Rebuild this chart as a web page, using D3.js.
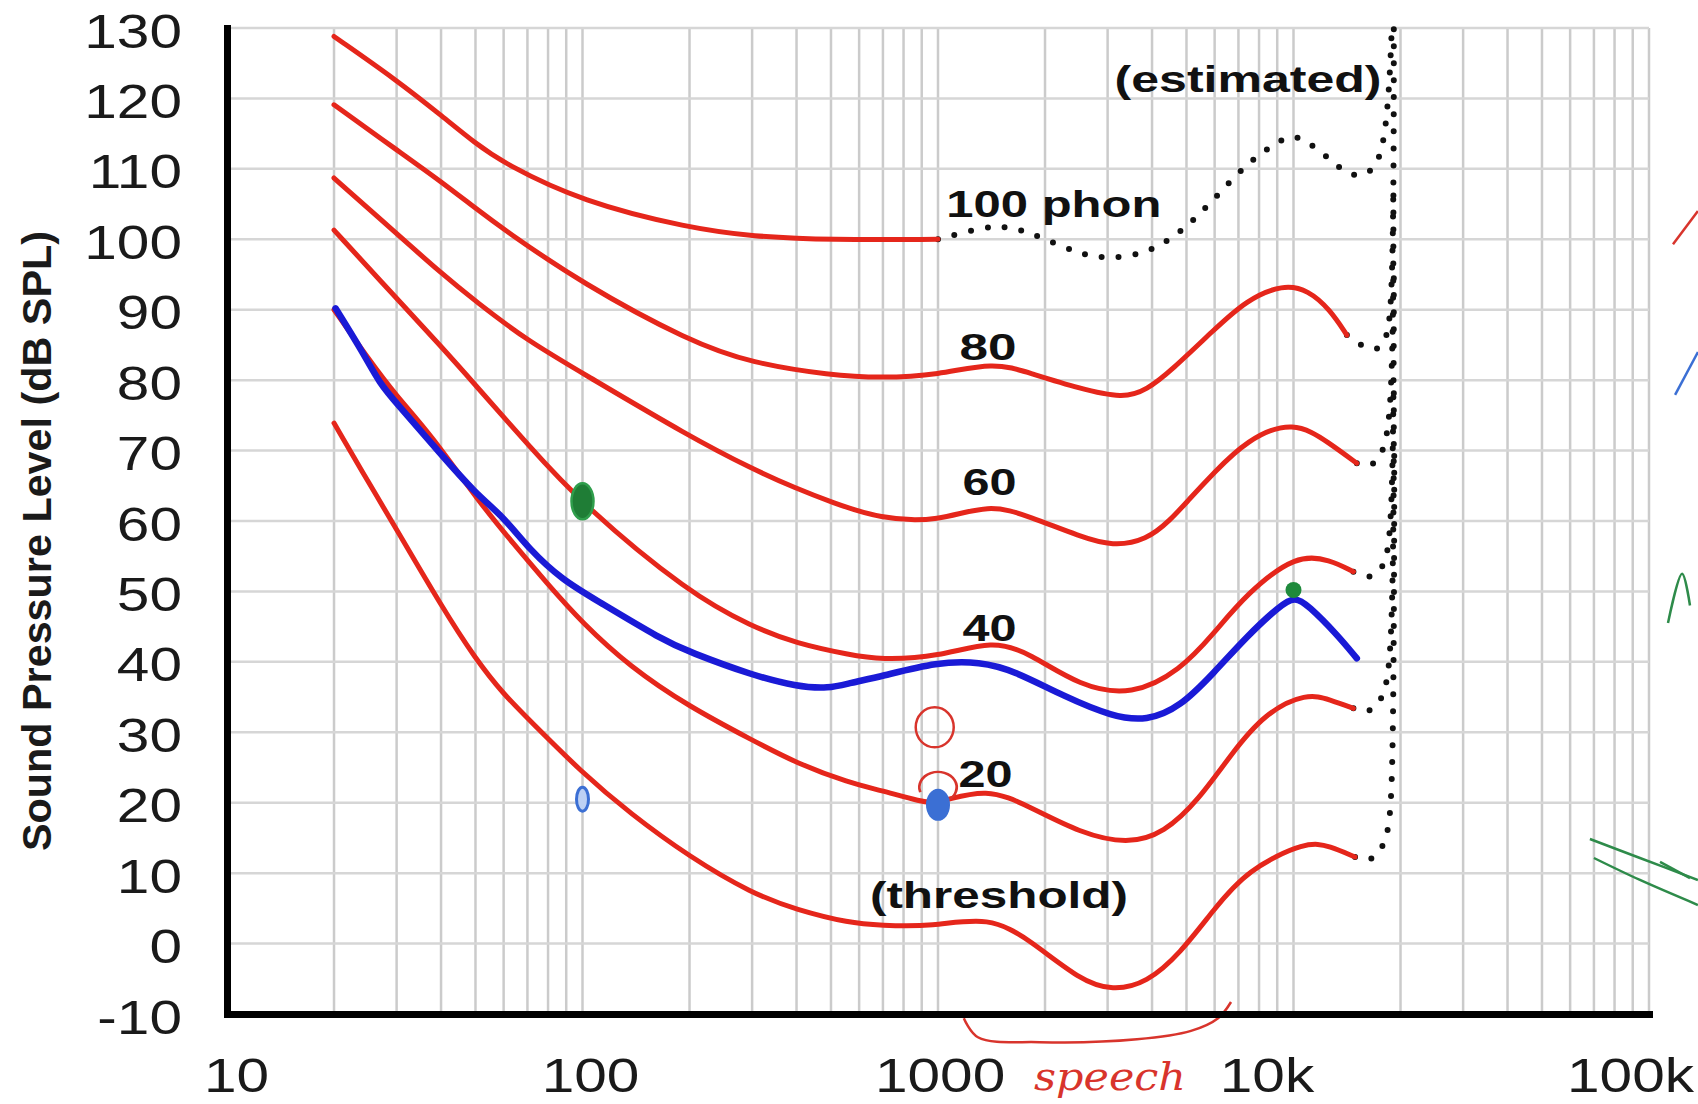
<!DOCTYPE html>
<html><head><meta charset="utf-8">
<script src="https://cdn.jsdelivr.net/npm/d3@7"></script>
<style>html,body{margin:0;padding:0;background:#fff;} svg{display:block;}</style>
</head><body>
<svg id="chart" width="1698" height="1104"></svg>
<script>
// ---------- data ----------
const yTickValues = [-10,0,10,20,30,40,50,60,70,80,90,100,110,120,130];
const xTickValues = [10,100,1000,10000,100000];
const xTickLabels = ["10","100","1000","10k","100k"];

// equal-loudness contours [frequency Hz, dB SPL]
const phon100 = [[20,128.8],[30,122.6],[40,117.6],[50,113.6],[60,110.8],[100,105.3],[200,101.6],[300,100.4],[500,99.9],[1000,100]];
const phon80 = [[20,119.1],[30,112.7],[40,108.2],[50,104.4],[60,101.4],[100,93.7],[200,85.5],[300,82.4],[500,80.7],[687,80.3],[1000,80.7],[1432,82.6],[1815,81],[2500,78.8],[3320,77.4],[3865,78.6],[4540,81.4],[5960,87.1],[7380,91.4],[9350,93.6],[11000,92.8],[12680,90],[14130,86.4]];
const phon60 = [[20,108.7],[30,100.8],[40,95.2],[50,91.2],[70,85.6],[100,81],[200,72],[300,67.4],[400,64.6],[500,62.7],[687,60.3],[1000,59.9],[1394,62.5],[1815,60.6],[2510,57.8],[3100,56.4],[3865,57.3],[4500,60.1],[5070,63],[5960,66.8],[7380,71.5],[10000,74.4],[12680,71],[15070,68.2]];
const phon40 = [[20,101.3],[30,91.6],[40,84.8],[50,79.3],[70,70.9],[100,62.3],[200,49.7],[300,45],[400,42.6],[565,41],[687,40.3],[1000,40.7],[1430,43.1],[1815,41.2],[2510,36.5],[3520,35.2],[4800,38.8],[5960,44],[7380,49.7],[10200,55.3],[12680,54.5],[14740,52.8]];
const phon20 = [[20,90],[25,83],[30,77.7],[37.3,72.4],[51.5,62.5],[63.9,56.8],[79.3,51.2],[100,45.5],[136,39.3],[200,33.6],[300,28.9],[400,25.6],[565,22.8],[687,21.8],[900,20.1],[1000,19.9],[1370,22.2],[1815,19.4],[2510,15.7],[3410,14.1],[4330,15.7],[5410,20.4],[6700,27],[8300,32.7],[10900,35.6],[12680,34.6],[14740,33.4]];
const threshold = [[20,73.9],[25,65.5],[30,58.8],[40,48],[50,40.4],[60,35.4],[71,31.7],[100,24.2],[136,18.5],[200,12.3],[300,7.1],[400,4.8],[565,2.9],[687,2.6],[960,2.4],[1394,3.9],[1815,0.5],[2510,-5.2],[3100,-6.7],[3865,-5.6],[4800,-1.4],[5960,4.8],[7380,10.4],[10900,14.6],[12680,13.8],[14900,12.3]];

// estimated (dotted) extensions
const est100 = [[1000,100],[1313,101.6],[1560,102],[1936,100.4],[2510,97.8],[3050,97.2],[3865,98],[4800,100.8],[5960,105.6],[7380,110.8],[9160,114.1],[10200,115],[12140,112.2],[14130,109.1],[16070,108.9],[17570,111.3],[18300,117],[18700,124],[18900,130]];
const est80 = [[14130,86.4],[15380,85],[17140,84],[18300,85.7],[18800,90],[19050,100],[19150,115],[19150,130]];
const est60 = [[15070,68.2],[16460,67.5],[17970,69.6],[18700,75],[19000,85],[19100,95],[19100,108]];
const est40 = [[14740,52.8],[16460,51.6],[18300,53.7],[18800,60],[19050,70],[19150,85],[19150,95]];
const est20 = [[14740,33.4],[16070,32.5],[17970,34.6],[18700,40],[19000,50],[19150,65],[19150,80]];
const estThreshold = [[14900,12.3],[16460,11.4],[18300,14.2],[18900,20],[19100,35],[19200,55],[19200,70]];

// hand-drawn blue curve
const blueCurve = [[20.2,90.2],[24.2,83.8],[26.9,79.5],[30,76.7],[39.8,69.6],[50,63.9],[60,60.6],[71,55.9],[88,51.6],[109,48.8],[168,43.1],[200,41.4],[300,38.1],[400,36.5],[493,36.2],[565,37],[687,37.9],[1000,40],[1313,40],[1630,38.8],[2260,35.1],[3100,32.2],[3865,31.6],[4800,33.6],[5960,38.4],[7380,43.6],[9160,48],[10100,49.3],[11000,48],[13200,44],[15070,40.5]];

// labels (anchor in data units)
const labelTexts = ["100 phon","(estimated)","80","60","40","20","(threshold)"];
const labelFreq  = [2118,7450,1382,1396,1396,1360,1484];
const labelDb    = [103.2,120.9,82.9,63.7,42.9,22.3,5.05];

// hand annotations (data units)
const greenMarks = [[100,62.8],[10000,50.2]];
const blueBlob = [1000,19.7];
const blueDrop = [100,20.5];
const redCircle = [979,30.7];
const redArc = [1000,22.2];
const speechBrace = [[1182,-10.6],[1295,-13.3],[1931,-14],[3629,-13.6],[5148,-12.4],[6134,-10.6],[6672,-8.3]];
const speechText = {text:"speech", f:3047, db:-20.8};
const edgeRed = [[116800,99.3],[137300,104]];
const edgeBlue = [[118400,77.9],[137300,84]];
const edgeGreenA = [[113100,45.5],[123900,52.5],[130400,48]];
const edgeGreenArrow1 = [[68200,14.85],[94300,12.15],[137300,9.03]];
const edgeGreenArrow2 = [[70000,12.15],[94300,9.03],[137300,5.48]];
const edgeGreenHead = [[107400,11.6],[130400,9.3]];

// ---------- styles ----------
const xLabelShift = [9,7.5,1.6,-27,-19];
const labelWidths = [215,267,57,54,54,54,258];
const RED = "#e5261b", BLUE = "#1a1ad6", GREEN = "#1f7d36";

// ---------- drawing ----------
const svg = d3.select("#chart");
const x = d3.scaleLog().domain([10,100000]).range([227,1649]);
const y = d3.scaleLinear().domain([-10,130]).range([1014,28]);

// grid
const gridF = x.ticks().filter(d => d > 10);
svg.append("g").selectAll("line").data(gridF).join("line")
  .attr("x1", d => x(d)).attr("x2", d => x(d))
  .attr("y1", y(130)).attr("y2", y(-10))
  .attr("stroke", "#cbcbcb").attr("stroke-width", 2.5);
svg.append("g").selectAll("line").data(yTickValues.filter(d => d > -10)).join("line")
  .attr("x1", x(10)).attr("x2", x(100000))
  .attr("y1", d => y(d)).attr("y2", d => y(d))
  .attr("stroke", "#d6d6d6").attr("stroke-width", 2.5);

const line = d3.line().x(d => x(d[0])).y(d => y(d[1])).curve(d3.curveBasis);

// dotted estimates
[est100, est80, est60, est40, est20, estThreshold].forEach(d => {
  svg.append("path").attr("d", line(d)).attr("fill","none")
    .attr("stroke","#111").attr("stroke-width",6)
    .attr("stroke-dasharray","0 17").attr("stroke-linecap","round");
});

// red contours
[phon100, phon80, phon60, phon40, phon20, threshold].forEach(d => {
  svg.append("path").attr("d", line(d)).attr("fill","none")
    .attr("stroke", RED).attr("stroke-width", 5).attr("stroke-linecap","round");
});

// blue curve
svg.append("path").attr("d", line(blueCurve)).attr("fill","none")
  .attr("stroke", BLUE).attr("stroke-width", 6.5).attr("stroke-linecap","round").attr("stroke-linejoin","round");

// curve labels
svg.append("g").selectAll("text").data(labelTexts).join("text")
  .attr("x", (d,i) => x(labelFreq[i])).attr("y", (d,i) => y(labelDb[i]))
  .attr("text-anchor","middle")
  .attr("font-family","'Liberation Sans', Arial, sans-serif").attr("font-weight","bold")
  .attr("font-size",37).attr("fill","#111")
  .attr("textLength",(d,i) => labelWidths[i]).attr("lengthAdjust","spacingAndGlyphs")
  .text(d => d);

// annotations
svg.append("ellipse").attr("cx", x(greenMarks[0][0])).attr("cy", y(greenMarks[0][1]))
  .attr("rx", 11).attr("ry", 18).attr("fill", GREEN).attr("stroke","#2f9e4c").attr("stroke-width",2.5);
svg.append("circle").attr("cx", x(greenMarks[1][0])).attr("cy", y(greenMarks[1][1]))
  .attr("r", 8).attr("fill", "#1f8a3c");
svg.append("ellipse").attr("cx", x(redCircle[0])).attr("cy", y(redCircle[1]))
  .attr("rx", 19).attr("ry", 20).attr("fill","none").attr("stroke","#d8342c").attr("stroke-width",2.5);
svg.append("path")
  .attr("d", d3.arc()({innerRadius:17, outerRadius:17, startAngle:-1.9, endAngle:2.6}))
  .attr("transform", `translate(${x(redArc[0])},${y(redArc[1])}) scale(1.1,0.9)`)
  .attr("fill","none").attr("stroke","#d8342c").attr("stroke-width",2.5);
svg.append("ellipse").attr("cx", x(blueBlob[0])).attr("cy", y(blueBlob[1]))
  .attr("rx", 12).attr("ry", 16).attr("fill", "#3b6fd4");
svg.append("ellipse").attr("cx", x(blueDrop[0])).attr("cy", y(blueDrop[1]))
  .attr("rx", 6).attr("ry", 12).attr("fill","#bcd0f4").attr("stroke","#3b6fd4").attr("stroke-width",3);

const thin = d3.line().x(d => x(d[0])).y(d => y(d[1])).curve(d3.curveCatmullRom.alpha(0.5));
svg.append("path").attr("d", thin(speechBrace)).attr("fill","none").attr("stroke","#d8342c").attr("stroke-width",2.5);
svg.append("text").attr("x", x(speechText.f)).attr("y", y(speechText.db))
  .attr("text-anchor","middle").attr("font-family","'DejaVu Serif', serif").attr("font-style","italic")
  .attr("font-size",40).attr("fill","#d8342c").attr("textLength",152).attr("lengthAdjust","spacingAndGlyphs")
  .text(speechText.text);

[[edgeRed,"#d8342c"],[edgeBlue,"#3b6fd4"],[edgeGreenA,"#2e8b4a"],[edgeGreenArrow1,"#2e8b4a"],[edgeGreenArrow2,"#2e8b4a"],[edgeGreenHead,"#2e8b4a"]]
  .forEach(([d,c]) => svg.append("path").attr("d", thin(d)).attr("fill","none").attr("stroke",c).attr("stroke-width",2.5));

// axes
const yAxis = d3.axisLeft(y).tickValues(yTickValues).tickFormat(d => String(d)).tickSize(0).tickSizeOuter(0);
const gy = svg.append("g").attr("transform","translate(227,0)").call(yAxis);
gy.select(".domain").attr("stroke","#000").attr("stroke-width",7).attr("stroke-linecap","square");
gy.selectAll(".tick text")
  .attr("font-family","'Liberation Sans', Arial, sans-serif").attr("font-size",48).attr("fill","#1a1a1a")
  .attr("text-anchor","end").attr("x", -45/1.22).attr("dy", null).attr("y", 19)
  .attr("transform","scale(1.22,1)");

const xAxis = d3.axisBottom(x).tickValues(xTickValues).tickFormat((d,i) => xTickLabels[i]).tickSize(0).tickSizeOuter(0);
const gx = svg.append("g").attr("transform","translate(0,1014)").call(xAxis);
gx.select(".domain").attr("stroke","#000").attr("stroke-width",7).attr("stroke-linecap","square");
gx.selectAll(".tick text")
  .attr("font-family","'Liberation Sans', Arial, sans-serif").attr("font-size",48).attr("fill","#1a1a1a")
  .attr("text-anchor","middle").attr("y", 78).attr("dy", null)
  .attr("transform",(d,i) => `translate(${xLabelShift[i]},0) scale(1.22,1)`);

// y title
svg.append("text").attr("transform","translate(51,541) rotate(-90)")
  .attr("text-anchor","middle").attr("font-family","'Liberation Sans', Arial, sans-serif")
  .attr("font-weight","bold").attr("font-size",40).attr("fill","#1a1a1a")
  .attr("textLength",620).attr("lengthAdjust","spacingAndGlyphs")
  .text("Sound Pressure Level (dB SPL)");
</script>
</body></html>
